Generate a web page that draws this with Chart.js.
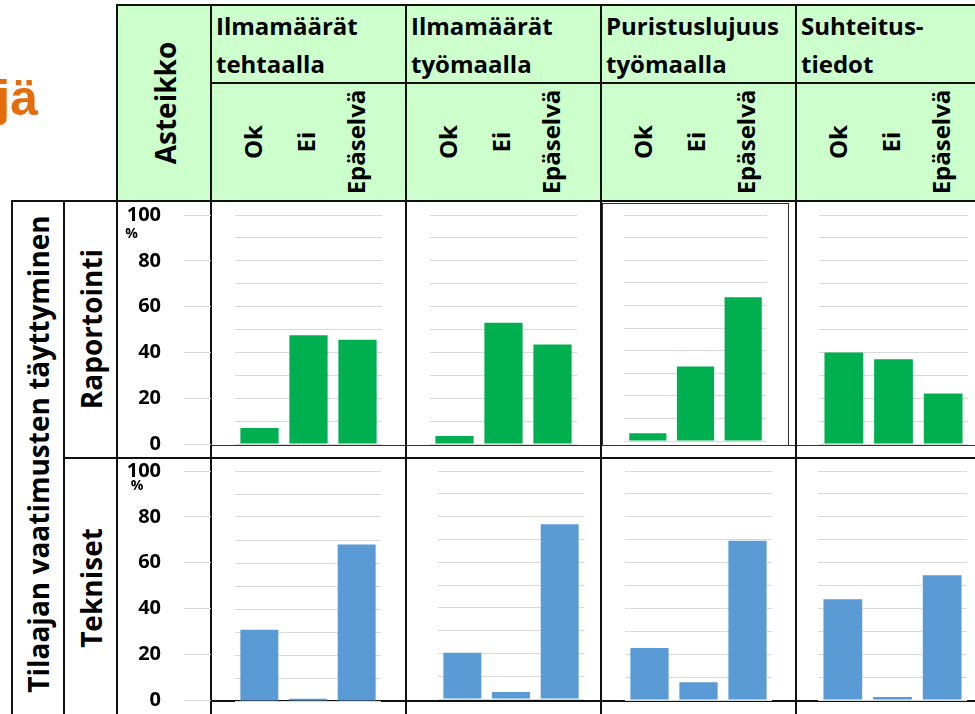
<!DOCTYPE html>
<html>
<head>
<meta charset="utf-8">
<script src="https://cdn.jsdelivr.net/npm/chart.js"></script>
<style>
  body { margin: 0; width: 975px; height: 714px; overflow: hidden; background: #fff; position: relative;
         font-family: 'Open Sans', sans-serif; font-weight: bold; color: #000; }
  .abs { position: absolute; }
  .txt { position: absolute; white-space: nowrap; line-height: 1; }
  .ln { position: absolute; background: #111; }
</style>
</head>
<body>
<div class="abs" style="left:117px;top:5px;width:858px;height:196px;background:#ccffcc"></div>
<div class="txt" style="left:-12px;top:73px;width:50px;text-align:right;font-family:'Liberation Sans',Arial,sans-serif;font-size:50px;line-height:50px;color:#e46c0a">jä</div>

<script>
// data
const categories = ['Ok', 'Ei', 'Epäselvä'];
const groupTitles = [['Ilmamäärät', 'tehtaalla'], ['Ilmamäärät', 'työmaalla'], ['Puristuslujuus', 'työmaalla'], ['Suhteitus-', 'tiedot']];
const rowLabels = ['Raportointi', 'Tekniset'];
const raportointi = [[7, 47.5, 45.5], [3.5, 53, 43.5], [3.4, 33, 63.6], [40, 37, 22]];
const tekniset = [[31, 1, 68], [20.3, 3.1, 76.6], [22.7, 7.8, 69.5], [44, 1.3, 54.5]];
const rowColors = ['#00b050', '#5b9bd5'];
const scaleMax = 100;

// layout
const colX = [211, 406, 601, 796];
const labelOffsets = [42, 95, 145];
const scaleRows = [[214.7, 444], [470.7, 699.5]];
const plotPos = [
  [[235, 147, 214.7, 444], [430, 147, 214.7, 444], [624, 143, 214.7, 441], [819, 149, 214.7, 444]],
  [[235, 146, 470.7, 701], [438, 146, 470.7, 698.5], [624.5, 147, 470.7, 699.5], [818, 149, 470.7, 699.5]]
];
const PAD = 16;   // panels
const SPAD = 38;  // scale column (tick padding adds to the needed room)

function text(str, cx, cy, size, rotate) {
  const d = document.createElement('div');
  d.className = 'txt';
  d.textContent = str;
  d.style.fontSize = size + 'px';
  d.style.left = cx + 'px';
  d.style.top = cy + 'px';
  d.style.transform = 'translate(-50%,-50%)' + (rotate ? ' rotate(-90deg)' : '');
  document.body.appendChild(d);
}

function line(x, y, w, h, color) {
  const d = document.createElement('div');
  d.className = 'ln';
  d.style.left = x + 'px'; d.style.top = y + 'px';
  d.style.width = w + 'px'; d.style.height = h + 'px';
  if (color) d.style.background = color;
  document.body.appendChild(d);
}

function chartBox(x, w, yTop, yBot, pad) {
  const top = Math.round(yTop) - pad;
  const h = Math.round(yBot) - Math.round(yTop) + 2 * pad;
  const d = document.createElement('div');
  d.className = 'abs';
  d.style.left = Math.round(x) + 'px'; d.style.top = top + 'px';
  d.style.width = Math.round(w) + 'px'; d.style.height = h + 'px';
  const c = document.createElement('canvas');
  d.appendChild(c);
  document.body.appendChild(d);
  return c;
}

// header texts
text('Asteikko', 165, 102.5, 28, true);
groupTitles.forEach((g, i) => {
  const d = document.createElement('div');
  d.className = 'txt';
  d.style.left = (colX[i] + 5) + 'px';
  d.style.top = '7px';
  d.style.fontSize = '24px';
  d.style.lineHeight = '38px';
  d.innerHTML = g[0] + '<br>' + g[1];
  document.body.appendChild(d);
  categories.forEach((cat, j) => text(cat, colX[i] + labelOffsets[j], 142, 24, true));
});
text('Tilaajan vaatimusten täyttyminen', 38, 453.5, 28, true);
text(rowLabels[0], 90.5, 328.5, 28, true);
text(rowLabels[1], 90.5, 587.5, 28, true);

// table lines
line(117, 4, 858, 2);
line(211, 82, 764, 2);
line(11, 200, 964, 2);
line(63, 457, 912, 2);
line(211, 445, 764, 1, '#333');
line(211, 700, 764, 2);
line(11, 200, 2, 514);
line(63, 200, 2, 514);
[117, 211, 406, 601, 796].forEach(x => line(x - 1, 4, 2, 710));
// inner chart frame of one panel
line(602, 203, 187, 1, '#333');
line(602, 203, 1, 242, '#333');
line(788, 203, 1, 242, '#333');

function drawAll() {
  [raportointi, tekniset].forEach((rowData, r) => {
    // scale column
    const sr = scaleRows[r];
    new Chart(chartBox(117, 94, sr[0], sr[1], SPAD), {
      type: 'bar',
      data: { labels: [''], datasets: [{ data: [] }] },
      options: {
        responsive: true, maintainAspectRatio: false, animation: false,
        layout: { padding: { top: SPAD, bottom: SPAD } },
        plugins: { legend: { display: false }, tooltip: { enabled: false } },
        scales: {
          x: { display: false },
          y: {
            min: 0, max: scaleMax,
            ticks: { stepSize: 20, padding: 23, color: '#000', font: { family: 'Open Sans', weight: 'bold', size: 20 } },
            grid: { color: '#d9d9d9', drawTicks: false },
            border: { display: false },
            afterFit: s => { s.width = 67; }
          }
        }
      }
    });
    text('%', r === 0 ? 131.5 : 137, r === 0 ? 233 : 485, 14, false);

    // data panels
    rowData.forEach((values, i) => {
      const p = plotPos[r][i];
      new Chart(chartBox(p[0], p[1], p[2], p[3], PAD), {
        type: 'bar',
        data: {
          labels: categories,
          datasets: [{ data: values, backgroundColor: rowColors[r], borderWidth: 0, barPercentage: 0.78, categoryPercentage: 1 }]
        },
        options: {
          responsive: true, maintainAspectRatio: false, animation: false,
          layout: { padding: { top: PAD, bottom: PAD } },
          plugins: { legend: { display: false }, tooltip: { enabled: false } },
          scales: {
            x: { display: false },
            y: {
              min: 0, max: scaleMax,
              ticks: { display: false, stepSize: 10 },
              grid: { color: '#d9d9d9', drawTicks: false },
              border: { display: false },
              afterFit: s => { s.width = 0; }
            }
          }
        }
      });
    });
  });
}

document.fonts.load('bold 20px "Open Sans"').then(drawAll, drawAll);
</script>
</body>
</html>
